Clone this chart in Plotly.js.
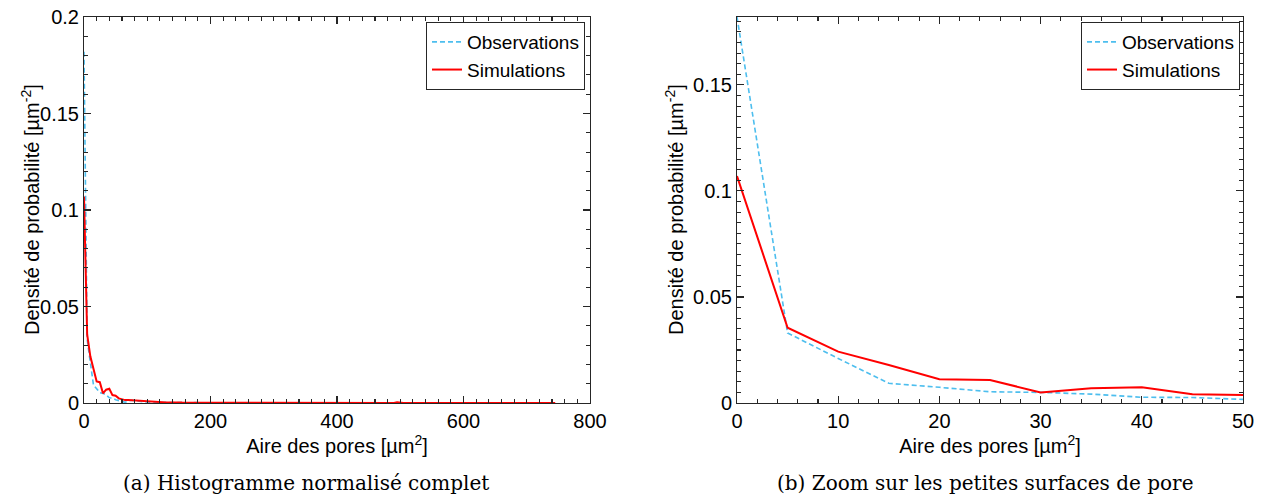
<!DOCTYPE html>
<html>
<head>
<meta charset="utf-8">
<script src="https://cdn.plot.ly/plotly-3.0.1.min.js"></script>
<style>html,body{margin:0;padding:0;background:#fff;}#chart{width:1262px;height:498px;}</style>
</head>
<body>
<div id="chart"></div>
<script>
// Bin positions (pore area, µm²)
const binX = [0,5,10,15,20,25,30,35,40,45,50,55,60,65,70,75,80,85,90,95,
  100,105,110,115,120,125,130,135,140,145,150,155,160,165,170,175,180,185,190,195,
  200,205,210,215,220,225,230,235,240,245,250,255,260,265,270,275,280,285,290,295,
  300,305,310,315,320,325,330,335,340,345,350,355,360,365,370,375,380,385,390,395,
  400,405,410,415,420,425,430,435,440,445,450,455,460,465,470,475,480,485,490,495,
  500,505,510,515,520,525,530,535,540,545,550,555,560,565,570,575,580,585,590,595,
  600,605,610,615,620,625,630,635,640,645,650,655,660,665,670,675,680,685,690,695,
  700,705,710,715,720,725,730,735,740,745];

// Observations (probability density, µm^-2)
const obsY = [0.182,0.033,0.021,0.0093,0.0074,0.0053,0.0050,0.0042,0.0027,0.0026,0.0017,
  0.0012,0.0008,0.0004,0.0010,0.0014,0.0013,0.0010,0.0006,0.0005,0.0005,
  0.0004,0.0005,0.0003,0.0003,0.0002,0.0003,0.0002,0.0002,0.0001,0.0002,0.0002,0.0001,0.0001,0.0001,0.0002,0.0001,0.0001,0,0.0001,0.0001,
  0,0.0001,0,0,0.0001,0,0,0.0001,0,0,0,0.0001,0,0,0,0,0.0001,0,0,0,
  0,0,0.0001,0,0,0,0,0,0,0,0.0001,0,0,0,0,0,0,0,0,0,
  0,0,0,0,0,0,0.0001,0,0,0,0,0,0,0,0,0,0,0,0,0];

// Simulations (probability density, µm^-2)
const simY = [0.107,0.0355,0.0242,0.0179,0.0112,0.0108,0.0050,0.0069,0.0074,0.0041,0.0038,
  0.0024,0.0018,0.0015,0.0016,0.0015,0.0011,0.0010,0.0009,0.0008,0.0006,
  0.0005,0.0005,0.0004,0.0005,0.0004,0.0003,0.0003,0.0004,0.0002,0.0003,0.0002,0.0002,0.0003,0.0002,0.0001,0.0002,0.0001,0.0001,0.0002,0.0001,
  0.0001,0.0001,0,0.0001,0.0001,0,0.0001,0,0.0001,0,0,0.0001,0,0,0.0001,0,0,0,0.0001,0,
  0,0.0001,0,0,0,0,0.0001,0,0,0,0,0,0,0.0001,0,0,0,0,0,0,
  0,0,0,0,0,0,0,0,0,0,0,0,0,0,0,0,0,0,0.0004,0,
  0,0,0,0,0,0.0001,0,0,0,0,0,0,0,0,0,0,0,0,0,0,
  0,0,0,0,0,0,0,0,0,0,0,0,0,0,0,0,0,0,0,0,
  0,0,0,0,0,0,0,0,0];

const seriesNames = ['Observations','Simulations'];
const xTitle = 'Aire des pores [µm<sup>2</sup>]';
const yTitle = 'Densité de probabilité [µm<sup>-2</sup>]';
const captions = ['(a) Histogramme normalisé complet','(b) Zoom sur les petites surfaces de pore'];

const W = 1262, H = 498;
const SANS = 'Liberation Sans, Arial, sans-serif';
const SERIF = 'DejaVu Serif, Liberation Serif, serif';
const obsColor = '#4DBEEE', simColor = '#FF0000';
const axisColor = '#262626';

function mkTraces(xa, ya, leg) {
  return [
    {x: binX.slice(0, obsY.length), y: obsY, type: 'scatter', mode: 'lines', name: seriesNames[0],
     xaxis: xa, yaxis: ya, legend: leg, line: {color: obsColor, width: 1.6, dash: '5px,3px'}},
    {x: binX.slice(0, simY.length), y: simY, type: 'scatter', mode: 'lines', name: seriesNames[1],
     xaxis: xa, yaxis: ya, legend: leg, line: {color: simColor, width: 2}}
  ];
}

const data = mkTraces('x', 'y', 'legend').concat(mkTraces('x2', 'y2', 'legend2'));

const yDom = [(H - 403) / H, (H - 17) / H];
function axisBase(extra) {
  return Object.assign({
    showline: true, linecolor: axisColor, linewidth: 1, mirror: 'allticks',
    ticks: 'inside', ticklen: 7, tickcolor: axisColor, tickwidth: 1.1,
    showgrid: false, zeroline: false,
    tickfont: {family: SANS, size: 20, color: '#000'},
    automargin: false
  }, extra);
}
function minorTicks(d) {
  return {dtick: d, ticklen: 4, ticks: 'inside', tickcolor: axisColor, tickwidth: 1.1, showgrid: false};
}

const layout = {
  width: W, height: H,
  margin: {l: 0, r: 0, t: 0, b: 0},
  paper_bgcolor: '#fff', plot_bgcolor: '#fff',
  showlegend: true,
  xaxis: axisBase({domain: [84 / W, 590 / W], range: [0, 800], dtick: 200, tick0: 0, anchor: 'y',
    minor: minorTicks(20),
    title: {text: xTitle, font: {family: SANS, size: 20, color: '#000'}, standoff: 2}}),
  yaxis: axisBase({domain: yDom, range: [0, 0.2], dtick: 0.05, tick0: 0, anchor: 'x',
    minor: minorTicks(0.01)}),
  xaxis2: axisBase({domain: [737 / W, 1243 / W], range: [0, 50], dtick: 10, tick0: 0, anchor: 'y2',
    minor: minorTicks(2),
    title: {text: xTitle, font: {family: SANS, size: 20, color: '#000'}, standoff: 2}}),
  yaxis2: axisBase({domain: yDom, range: [0, 0.182], dtick: 0.05, tick0: 0, anchor: 'x2',
    minor: minorTicks(0.005)}),
  legend: {x: 585 / W, xanchor: 'right', y: (H - 22) / H, yanchor: 'top',
    bgcolor: '#fff', bordercolor: '#262626', borderwidth: 1,
    font: {family: SANS, size: 19, color: '#000'}, tracegroupgap: 0, itemwidth: 30},
  legend2: {x: 1240 / W, xanchor: 'right', y: (H - 22) / H, yanchor: 'top',
    bgcolor: '#fff', bordercolor: '#262626', borderwidth: 1,
    font: {family: SANS, size: 19, color: '#000'}, tracegroupgap: 0, itemwidth: 30},
  annotations: [
    {text: yTitle, xref: 'paper', yref: 'paper', x: 30 / W, y: (H - 210) / H, textangle: -90,
     xanchor: 'center', yanchor: 'middle', showarrow: false, font: {family: SANS, size: 20, color: '#000'}},
    {text: yTitle, xref: 'paper', yref: 'paper', x: 674 / W, y: (H - 210) / H, textangle: -90,
     xanchor: 'center', yanchor: 'middle', showarrow: false, font: {family: SANS, size: 20, color: '#000'}},
    {text: captions[0], xref: 'paper', yref: 'paper', x: 306 / W, y: (H - 483) / H,
     xanchor: 'center', yanchor: 'middle', showarrow: false, font: {family: SERIF, size: 20, color: '#000'}},
    {text: captions[1], xref: 'paper', yref: 'paper', x: 985 / W, y: (H - 483) / H,
     xanchor: 'center', yanchor: 'middle', showarrow: false, font: {family: SERIF, size: 20, color: '#000'}}
  ]
};

Plotly.newPlot('chart', data, layout, {displayModeBar: false, staticPlot: true});
</script>
</body>
</html>
